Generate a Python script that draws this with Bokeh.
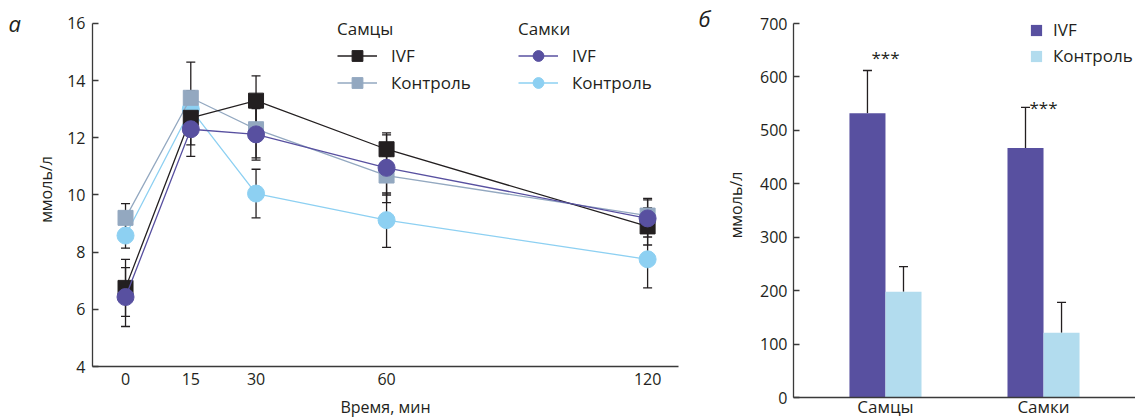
from bokeh.plotting import figure
from bokeh.models import (ColumnDataSource, Range1d, FactorRange, Whisker, TeeHead,
                          Legend, LegendItem, Label, FixedTicker)
from bokeh.layouts import row
from bokeh.transform import dodge
from bokeh.core.properties import value
from bokeh.embed import file_html
from bokeh.resources import INLINE

FONT = "Open Sans"
INK = "#231f20"
AXIS = "#3a3a3a"
BLACK = "#231f20"
GREY = "#93a8c0"
PURPLE = "#5850a0"
LBLUE = "#8dd0f2"
BAR_LBLUE = "#b2dcee"

# ---- panel a data ----
times = [0, 15, 30, 60, 120]
male_ivf = [6.75, 12.7, 13.3, 11.6, 8.9]
male_ivf_err = [1.0, 0.95, 0.87, 0.5, 0.65]
male_ctrl = [9.2, 13.4, 12.3, 10.68, 9.28]
male_ctrl_err = [0.5, 1.25, 1.0, 0.68, 0.6]
female_ivf = [6.43, 12.3, 12.12, 10.95, 9.18]
female_ivf_err = [1.03, 0.95, 0.9, 1.22, 0.65]
female_ctrl = [8.58, 13.0, 10.05, 9.12, 7.75]
female_ctrl_err = [0.44, 0.5, 0.85, 0.95, 1.0]
y_ticks_a = [4, 6, 8, 10, 12, 14, 16]

# ---- panel b data ----
sexes = ["Самцы", "Самки"]
ivf_vals = [532, 467]
ivf_errs = [80, 76]
ctrl_vals = [198, 121]
ctrl_errs = [47, 57]
sig_labels = ["***", "***"]
sig_y = [636, 543]
y_ticks_b = [0, 100, 200, 300, 400, 500, 600, 700]


def style_axes(p):
    p.xgrid.visible = False
    p.ygrid.visible = False
    p.outline_line_color = None
    p.background_fill_color = "white"
    p.border_fill_color = "white"
    if "frame_align" in p.properties():
        p.frame_align = False
    for ax in (p.xaxis[0], p.yaxis[0]):
        ax.axis_line_color = AXIS
        ax.axis_line_width = 1.3
        ax.major_tick_line_color = AXIS
        ax.major_tick_line_width = 1.3
        ax.minor_tick_line_color = None
        ax.major_label_text_font = FONT
        ax.major_label_text_color = INK
        ax.major_label_text_font_size = "16px"
        ax.axis_label_text_font = FONT
        ax.axis_label_text_font_style = "normal"
        ax.axis_label_text_color = INK
        ax.axis_label_text_font_size = "16px"


# ================= panel a =================
TOP = 12
p1 = figure(width=680, height=420, x_range=Range1d(-7.59, 127.1),
            y_range=Range1d(4, 4 + (367 - TOP) / 28.667),
            output_backend="svg", toolbar_location=None,
            min_border_left=92, min_border_right=2, min_border_top=TOP, min_border_bottom=53)
style_axes(p1)
p1.xaxis.ticker = FixedTicker(ticks=times)
p1.yaxis.ticker = FixedTicker(ticks=y_ticks_a)
p1.yaxis.bounds = (4, 16)
p1.xaxis.major_tick_in = 0
p1.xaxis.major_tick_out = 0
p1.xaxis.major_label_standoff = 6
p1.xaxis.axis_label = "Время, мин"
p1.xaxis.axis_label_standoff = 8
p1.yaxis.major_tick_in = 6
p1.yaxis.major_tick_out = 0
p1.yaxis.major_label_standoff = 7
p1.yaxis.axis_label = "ммоль/л"
p1.yaxis.axis_label_standoff = 7

series = [
    ("fc", female_ctrl, female_ctrl_err, LBLUE, "circle", 17),
    ("mc", male_ctrl, male_ctrl_err, GREY, "square", 15),
    ("mi", male_ivf, male_ivf_err, BLACK, "square", 15),
    ("fi", female_ivf, female_ivf_err, PURPLE, "circle", 17),
]
rend = {}
for key, vals, errs, col, mk, sz in series:
    src = ColumnDataSource(dict(x=times, y=vals,
                                lo=[v - e for v, e in zip(vals, errs)],
                                hi=[v + e for v, e in zip(vals, errs)]))
    w = Whisker(base="x", lower="lo", upper="hi", source=src, dimension="height",
                line_color=INK, line_width=1.3,
                upper_head=TeeHead(size=9, line_color=INK, line_width=1.3),
                lower_head=TeeHead(size=9, line_color=INK, line_width=1.3))
    p1.add_layout(w)
for key, vals, errs, col, mk, sz in series:
    src = ColumnDataSource(dict(x=times, y=vals))
    l = p1.line("x", "y", source=src, line_color=col, line_width=1.3)
    s = p1.scatter("x", "y", source=src, marker=mk, size=sz, fill_color=col, line_color=col)
    rend[key] = (l, s)


def make_leg(title, items, loc):
    return Legend(title=title, items=items, location=loc,
                  title_text_font=FONT, title_text_font_size="17px", title_text_font_style="normal",
                  title_text_color=INK, title_standoff=2,
                  label_text_font=FONT, label_text_font_size="17px", label_text_color=INK,
                  glyph_width=40, glyph_height=27, label_height=20, label_standoff=14,
                  spacing=0, padding=0, margin=0, border_line_alpha=0, background_fill_alpha=0)


leg_m = make_leg("Самцы", [LegendItem(label="IVF", renderers=list(rend["mi"])),
                           LegendItem(label="Контроль", renderers=list(rend["mc"]))], (245, 270))
leg_f = make_leg("Самки", [LegendItem(label="IVF", renderers=list(rend["fi"])),
                           LegendItem(label="Контроль", renderers=list(rend["fc"]))], (426, 270))
p1.add_layout(leg_m)
p1.add_layout(leg_f)
p1.add_layout(Label(x=-26.9, y=16.03, text="а", text_font=FONT, text_font_size="22px",
                    text_font_style="italic", text_color=INK, text_baseline="alphabetic"), "left")

# ================= panel b =================
src_b = ColumnDataSource(dict(
    cat=sexes, ivf=ivf_vals, ctrl=ctrl_vals,
    ivf_up=[v + e for v, e in zip(ivf_vals, ivf_errs)],
    ctrl_up=[v + e for v, e in zip(ctrl_vals, ctrl_errs)],
    sig=sig_labels, sig_y=sig_y))

p2 = figure(width=455, height=420,
            x_range=FactorRange(factors=sexes, range_padding=0.082, range_padding_units="absolute"),
            y_range=Range1d(0, (397 - TOP) / (374 / 700)), output_backend="svg", toolbar_location=None,
            min_border_left=113, min_border_right=0, min_border_top=TOP, min_border_bottom=23)
style_axes(p2)
p2.yaxis.ticker = FixedTicker(ticks=y_ticks_b)
p2.yaxis.bounds = (0, 700)
p2.xaxis.major_tick_in = 0
p2.xaxis.major_tick_out = 0
p2.xaxis.major_label_standoff = -3
p2.xaxis.major_label_text_font_size = "17px"
p2.yaxis.major_tick_in = 6
p2.yaxis.major_tick_out = 0
p2.yaxis.major_label_standoff = 6
p2.yaxis.axis_label = "ммоль/л"
p2.yaxis.axis_label_standoff = 10

BW = 0.228
for fld, up, off, col in (("ivf", "ivf_up", -BW / 2, PURPLE), ("ctrl", "ctrl_up", BW / 2, BAR_LBLUE)):
    p2.add_layout(Whisker(base=dodge("cat", off, range=p2.x_range), lower=fld, upper=up,
                          source=src_b, dimension="height", line_color=INK, line_width=1.3,
                          upper_head=TeeHead(size=9, line_color=INK, line_width=1.3),
                          lower_head=None))
r_ivf = p2.vbar(x=dodge("cat", -BW / 2, range=p2.x_range), top="ivf", width=BW, source=src_b,
                fill_color=PURPLE, line_color=None)
r_ctrl = p2.vbar(x=dodge("cat", BW / 2, range=p2.x_range), top="ctrl", width=BW, source=src_b,
                 fill_color=BAR_LBLUE, line_color=None)
p2.text(x="cat", y="sig_y", text="sig", source=src_b, text_align="center", text_baseline="middle",
        text_font=value(FONT), text_font_size="17px", text_color=INK)

leg_b = Legend(items=[LegendItem(label="IVF", renderers=[r_ivf]),
                      LegendItem(label="Контроль", renderers=[r_ctrl])],
               location=(236, 330),
               label_text_font=FONT, label_text_font_size="17px", label_text_color=INK,
               glyph_width=14, glyph_height=14, label_height=20, label_standoff=10,
               spacing=3, padding=0, margin=0, border_line_alpha=0, background_fill_alpha=0)
p2.add_layout(leg_b)
p2.add_layout(Label(x=-0.683, y=710, text="б", text_font=FONT, text_font_size="22px",
                    text_font_style="italic", text_color=INK, text_baseline="alphabetic"), "left")

layout = row(p1, p2)
open("out.html", "w").write(file_html(layout, INLINE))
